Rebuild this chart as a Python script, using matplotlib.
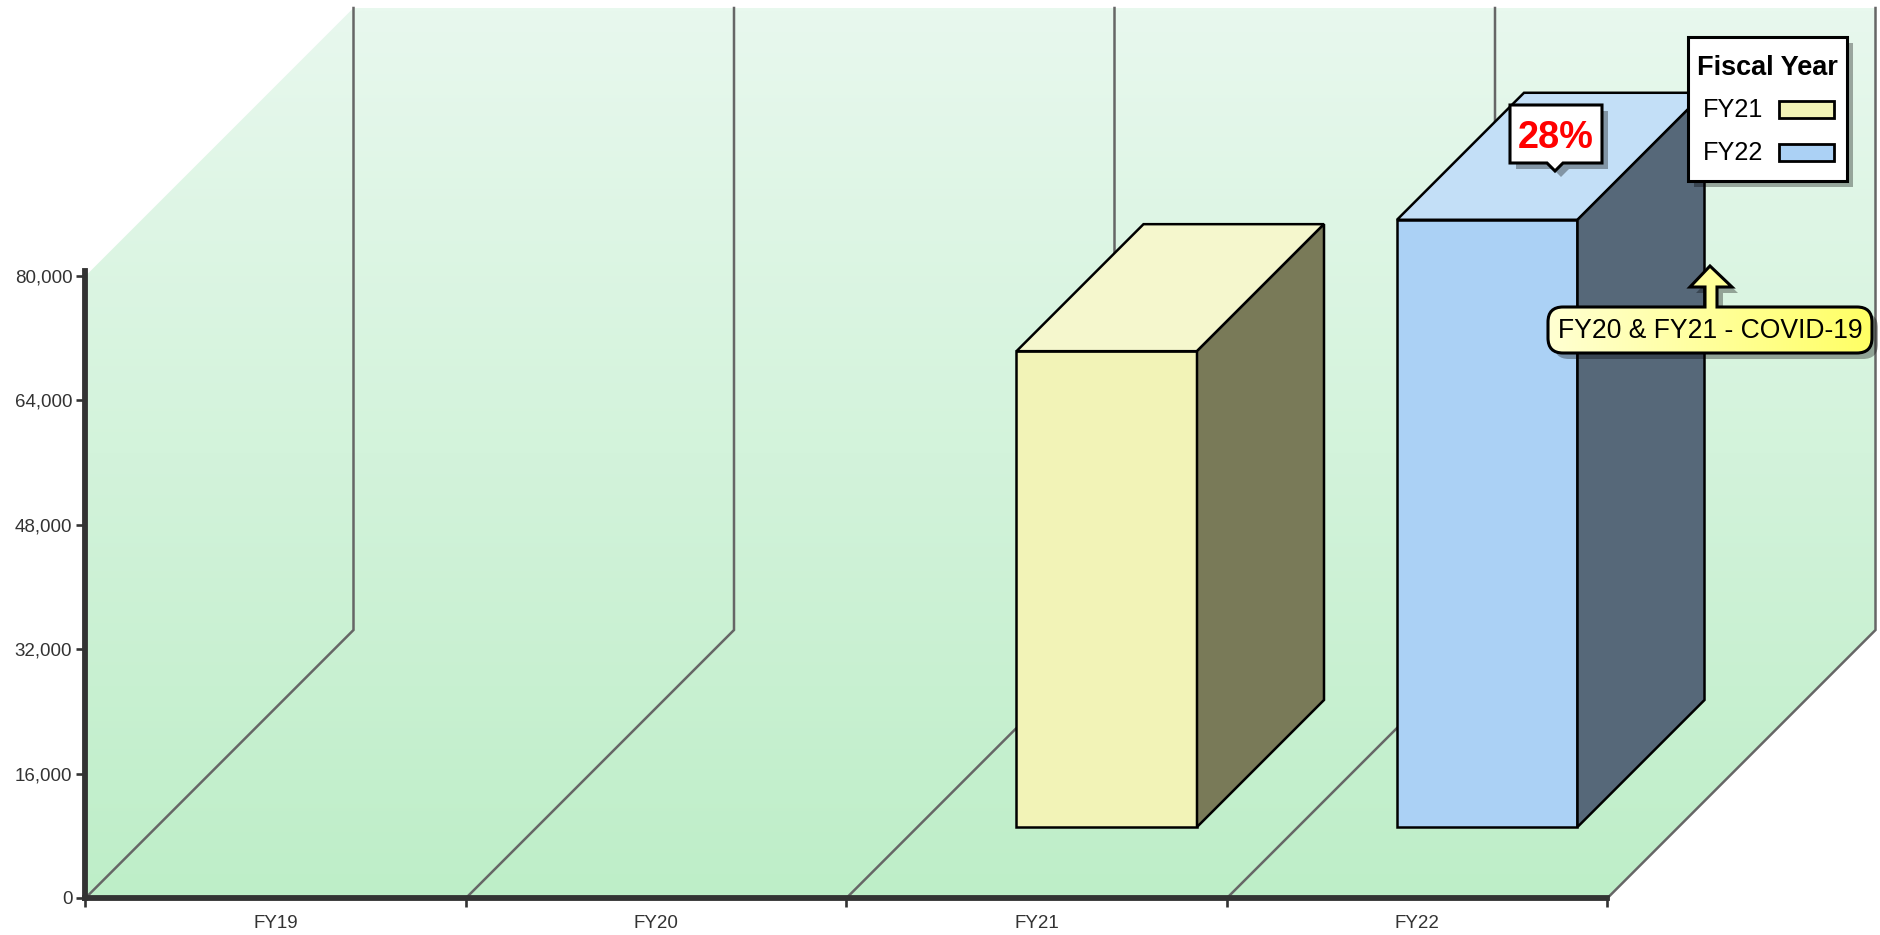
import numpy as np
import matplotlib
matplotlib.use('Agg')
import matplotlib.pyplot as plt
from matplotlib.patches import Polygon, PathPatch
from matplotlib.path import Path
from matplotlib.colors import LinearSegmentedColormap

plt.rcParams['font.family'] = ['Liberation Sans', 'DejaVu Sans']

fiscal_years = ['FY19', 'FY20', 'FY21', 'FY22']
bar_positions = [2, 3]
bar_values = [61200, 78100]
bar_names = ['FY21', 'FY22']
y_ticks = [0, 16000, 32000, 48000, 64000, 80000]
change_label = '28%'
note_label = 'FY20 & FY21 - COVID-19'
legend_title = 'Fiscal Year'

front_colors = ['#F2F3B7', '#ABD1F5']
top_colors = ['#F5F7CD', '#C3DFF7']
side_colors = ['#797A58', '#566879']

W, H = 1881, 935
fig = plt.figure(figsize=(W / 100, H / 100), dpi=100)
ax = fig.add_axes([85.5 / W, (H - 898) / H, 1522 / W, 622 / H])
ax.set_xlim(0, 4)
ax.set_ylim(0, 80000)
ax.patch.set_visible(False)

# depth of the fake 3d box, in data units
dx = 268 / 380.5
dy = 268 / 622 * 80000
bar_w = 180.5 / 380.5
depth_start_x = 70 / 268
depth_start_y = 71 / 268
bar_depth = 127 / 268

# wall + floor gradient
wall_pts = [(0, 0), (0, 80000), (dx, 80000 + dy), (4 + dx, 80000 + dy), (4 + dx, dy), (4, 0)]
wall = Polygon(wall_pts, closed=True, transform=ax.transData, fc='none', ec='none')
cmap = LinearSegmentedColormap.from_list('wall', ['#E8F8EE', '#BEEEC8'])
im = ax.imshow(np.linspace(0, 1, 256).reshape(-1, 1), cmap=cmap, aspect='auto',
               extent=[0, 4 + dx, 0, 80000 + dy], origin='upper', zorder=0)
ax.set_xlim(0, 4)
ax.set_ylim(0, 80000)
im.set_clip_box(fig.bbox)
im.set_clip_path(wall)

# grid lines on floor and back wall
for i in range(5):
    ax.plot([i, i + dx, i + dx], [0, dy, 80000 + dy], color='#666666', lw=1.8,
            clip_on=False, zorder=1, solid_joinstyle='miter')

# bars
for pos, val, fc, tc, sc in zip(bar_positions, bar_values, front_colors, top_colors, side_colors):
    x0 = pos + (1 - bar_w) / 2 + dx * depth_start_x
    y0 = dy * depth_start_y
    ddx = dx * bar_depth
    ddy = dy * bar_depth
    ax.bar(x0, val, width=bar_w, bottom=y0, align='edge', color=fc, edgecolor='black',
           lw=1.8, clip_on=False, zorder=3)
    ax.fill([x0, x0 + ddx, x0 + bar_w + ddx, x0 + bar_w],
            [y0 + val, y0 + val + ddy, y0 + val + ddy, y0 + val],
            fc=tc, ec='black', lw=1.8, clip_on=False, zorder=3)
    ax.fill([x0 + bar_w, x0 + bar_w + ddx, x0 + bar_w + ddx, x0 + bar_w],
            [y0, y0 + ddy, y0 + val + ddy, y0 + val],
            fc=sc, ec='black', lw=1.8, clip_on=False, zorder=3)

# axes
for s in ['top', 'right']:
    ax.spines[s].set_visible(False)
ax.spines['left'].set_linewidth(4.2)
ax.spines['bottom'].set_linewidth(4.2)
ax.spines['left'].set_color('#333333')
ax.spines['bottom'].set_color('#333333')
ax.spines['left'].set_bounds(0, 80600)
ax.spines['left'].set_zorder(4)
ax.spines['bottom'].set_zorder(4)
ax.set_yticks(y_ticks)
ax.set_yticklabels([f'{v:,}' for v in y_ticks])
ax.set_xticks(range(5))
ax.set_xticklabels([])
ax.set_xticks(np.arange(4) + 0.5, fiscal_years, minor=True)
ax.tick_params(axis='y', length=6.5, width=1.9, color='#333333', labelcolor='#333333', labelsize=13.5, pad=3)
ax.tick_params(axis='x', which='major', length=6.5, width=1.9, color='#333333')
ax.tick_params(axis='x', which='minor', length=0, labelcolor='#333333', labelsize=13.5, pad=12.5)

# overlay in pixel coordinates for callouts and legend
ov = fig.add_axes([0, 0, 1, 1], zorder=5)
ov.set_xlim(0, W)
ov.set_ylim(H, 0)
ov.axis('off')


def add_shadowed(path_verts, codes, fc, lw=2.2, z=6):
    sh = PathPatch(Path(np.array(path_verts) + [6, 6], codes), fc='black', ec='none', alpha=0.33, zorder=z)
    ov.add_patch(sh)
    p = PathPatch(Path(path_verts, codes), fc=fc, ec='black', lw=lw, zorder=z + 1, joinstyle='miter')
    ov.add_patch(p)
    return p


M, L, C, Z = Path.MOVETO, Path.LINETO, Path.CURVE3, Path.CLOSEPOLY

# 28% box
verts = [(1510, 105), (1602, 105), (1602, 163), (1563, 163), (1555, 171), (1547, 163), (1510, 163), (1510, 105)]
codes = [M, L, L, L, L, L, L, Z]
add_shadowed(verts, codes, 'white')
ov.text(1556, 138, change_label, color='#FF0000', fontsize=27.3, fontweight='bold',
        ha='center', va='center', zorder=9)

# covid note with arrow
l, r, t, b, rad = 1548, 1872, 307, 353, 15
verts = [(l + rad, t), (1705, t), (1705, 287), (1690, 287), (1710, 266), (1732, 287), (1717, 287), (1717, t),
         (r - rad, t), (r, t), (r, t + rad), (r, b - rad), (r, b), (r - rad, b), (l + rad, b), (l, b), (l, b - rad),
         (l, t + rad), (l, t), (l + rad, t), (l + rad, t)]
codes = [M, L, L, L, L, L, L, L, L, C, C, L, C, C, L, C, C, L, C, C, Z]
note = add_shadowed(verts, codes, 'none')
ycmap = LinearSegmentedColormap.from_list('note', ['#FFFFD2', '#FFFF64'])
grad = ov.imshow(np.linspace(0, 1, 256).reshape(1, -1), cmap=ycmap, aspect='auto',
                 extent=[l, r, b, 266], zorder=6.5)
ov.set_xlim(0, W)
ov.set_ylim(H, 0)
grad.set_clip_path(note)
ov.text((l + r) / 2, 331, note_label, color='black', fontsize=19.1, ha='center', va='center', zorder=9)

# legend box drawn by hand to hit the original spacing
verts = [(1688, 37), (1847, 37), (1847, 181), (1688, 181), (1688, 37)]
add_shadowed(verts, [M, L, L, L, Z], 'white', z=10)
ov.text(1767, 68, legend_title, fontsize=19.5, fontweight='bold', ha='center', va='center', zorder=12)
for name, c, yc in zip(bar_names, front_colors, [110, 153]):
    ov.text(1703, yc, name, fontsize=18.2, ha='left', va='center', zorder=12)
    ov.add_patch(PathPatch(Path([(1779, yc - 9), (1834, yc - 9), (1834, yc + 8), (1779, yc + 8), (1779, yc - 9)],
                                [M, L, L, L, Z]), fc=c, ec='black', lw=2.0, zorder=12))

fig.savefig('out.png', dpi=100)
